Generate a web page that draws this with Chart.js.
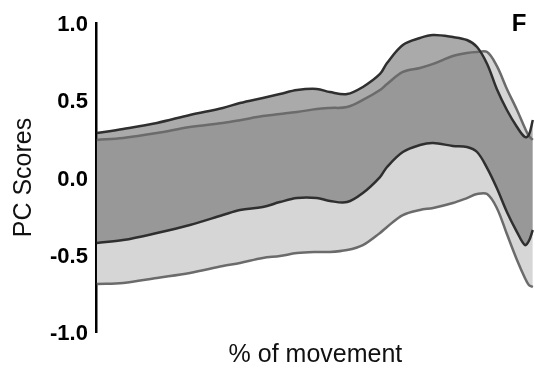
<!DOCTYPE html>
<html>
<head>
<meta charset="utf-8">
<script src="https://cdn.jsdelivr.net/npm/chart.js@4/dist/chart.umd.min.js"></script>
<style>
    html, body { margin: 0; padding: 0; background: #fff; }
    #wrap { width: 535px; height: 370px; }
</style>
</head>
<body>
<div id="wrap"><canvas id="pcChart" width="535" height="370"></canvas></div>
<script>
// --- data -----------------------------------------------------------------
var movementPct = [0.2, 6.2, 13.9, 21.4, 28.9, 32.8, 38.0, 41.9, 45.8, 50.3, 53.3, 57.2, 60.8, 64.7,
    66.3, 69.9, 73.8, 76.8, 81.3, 84.5, 86.8, 89.1, 91.3, 93.6, 95.9, 97.7, 98.6, 99.5];

// dark band (upper / lower bound)
var darkUpper = [0.288, 0.314, 0.353, 0.405, 0.450, 0.482, 0.515, 0.540, 0.566, 0.573, 0.553, 0.540, 0.586, 0.670,
    0.741, 0.858, 0.903, 0.922, 0.909, 0.890, 0.845, 0.735, 0.573, 0.437, 0.327, 0.262, 0.275, 0.372];
var darkLower = [-0.424, -0.405, -0.359, -0.307, -0.243, -0.210, -0.191, -0.159, -0.133, -0.133, -0.152, -0.159, -0.100, 0.003,
    0.068, 0.165, 0.210, 0.223, 0.204, 0.197, 0.165, 0.061, -0.068, -0.223, -0.353, -0.437, -0.411, -0.340];

// light band (upper / lower bound)
var lightUpper = [0.243, 0.256, 0.288, 0.327, 0.353, 0.371, 0.398, 0.411, 0.424, 0.443, 0.450, 0.456, 0.502, 0.566,
    0.605, 0.683, 0.709, 0.735, 0.786, 0.806, 0.812, 0.812, 0.722, 0.573, 0.437, 0.320, 0.269, 0.243];
var lightLower = [-0.689, -0.683, -0.650, -0.618, -0.573, -0.553, -0.521, -0.508, -0.489, -0.482, -0.482, -0.469, -0.437, -0.359,
    -0.320, -0.243, -0.210, -0.197, -0.165, -0.133, -0.107, -0.107, -0.197, -0.366, -0.534, -0.650, -0.696, -0.709];

var yTicks = [-1.0, -0.5, 0.0, 0.5, 1.0];
var panelLetter = "F";

var FONT = "'Liberation Sans', Arial, sans-serif";
var darkLineColor = "#2f2f2f";
var lightLineColor = "#6b6b6b";
var darkFillColor = "rgba(104,104,104,0.56)";
var lightFillColor = "#d6d6d6";

function toPoints(values) {
    return values.map(function (v, i) {
        return {x: movementPct[i], y: v};
    });
}

function bandLine(label, values, color, fill, fillColor) {
    return {
        label: label,
        data: toPoints(values),
        borderColor: color,
        borderWidth: 2.5,
        backgroundColor: fillColor || "transparent",
        fill: fill,
        pointRadius: 0,
        tension: 0.35
    };
}

// panel letter in the top right corner
var panelLetterPlugin = {
    id: "panelLetter",
    afterDraw: function (chart) {
        var ctx = chart.ctx;
        ctx.save();
        ctx.font = "bold 24px " + FONT;
        ctx.fillStyle = "#000";
        ctx.textAlign = "center";
        ctx.textBaseline = "middle";
        ctx.fillText(panelLetter, 519, 24);
        ctx.restore();
    }
};

var ctx = document.getElementById("pcChart").getContext("2d");
var pcChart = new Chart(ctx, {
    type: "line",
    data: {
        datasets: [
            bandLine("Dark upper", darkUpper, darkLineColor, "+1", darkFillColor),
            bandLine("Dark lower", darkLower, darkLineColor, false),
            bandLine("Light upper", lightUpper, lightLineColor, "+1", lightFillColor),
            bandLine("Light lower", lightLower, lightLineColor, false)
        ]
    },
    options: {
        responsive: false,
        animation: false,
        layout: {padding: {top: 23, right: 0, bottom: 0, left: 0}},
        plugins: {
            legend: {display: false},
            tooltip: {enabled: false},
            filler: {drawTime: "beforeDatasetsDraw"}
        },
        scales: {
            x: {
                type: "linear",
                min: 0,
                max: 100,
                grid: {display: false, drawTicks: false, tickLength: 0},
                border: {display: false},
                ticks: {display: false},
                title: {
                    display: true,
                    text: "% of movement",
                    color: "#111",
                    font: {family: FONT, size: 25},
                    padding: {top: 8, bottom: 0}
                }
            },
            y: {
                min: -1,
                max: 1,
                grid: {display: false, drawTicks: false, tickLength: 0},
                border: {display: true, color: "#000", width: 2.5},
                afterBuildTicks: function (axis) {
                    axis.ticks = yTicks.map(function (v) { return {value: v}; });
                },
                ticks: {
                    color: "#000",
                    padding: 8,
                    labelOffset: 2,
                    font: {family: FONT, size: 22, weight: "bold"},
                    callback: function (v) { return v.toFixed(1); }
                },
                title: {
                    display: true,
                    text: "PC Scores",
                    color: "#111",
                    font: {family: FONT, size: 25},
                    padding: {top: 9, bottom: 3}
                }
            }
        }
    },
    plugins: [panelLetterPlugin]
});
</script>
</body>
</html>
